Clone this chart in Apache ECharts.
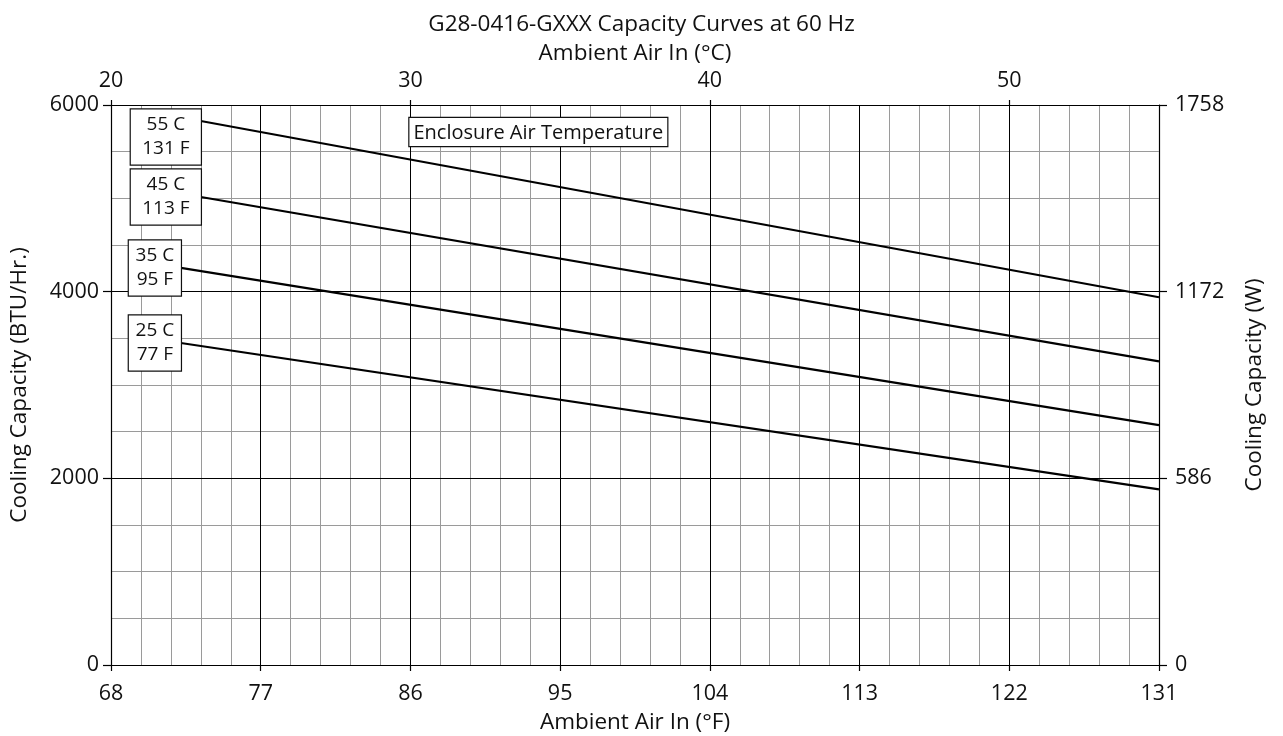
<!DOCTYPE html>
<html>
<head>
<meta charset="utf-8">
<title>G28-0416-GXXX Capacity Curves at 60 Hz</title>
<script src="https://cdn.jsdelivr.net/npm/echarts@6/dist/echarts.min.js"></script>
<style>
  html, body { margin: 0; padding: 0; background: #fff; }
  #chart { width: 1283px; height: 736px; }
</style>
</head>
<body>
<div id="chart"></div>
<script>
// Ambient air tick labels (°F, bottom) and capacity in watts (right)
const fahrenheitTicks = [68, 77, 86, 95, 104, 113, 122, 131];
const wattTicks = [0, 586, 1172, 1758];

// Enclosure air temperature curves: [ambient °F, capacity BTU/Hr]
const curve55C = [[73.4, 5829], [131, 3940]];
const curve45C = [[73.4, 5014], [131, 3254]];
const curve35C = [[72.2, 4254], [131, 2571]];
const curve25C = [[72.2, 3450], [131, 1882]];
const curveNames = ['55 C\n131 F', '45 C\n113 F', '35 C\n95 F', '25 C\n77 F'];

// anchor of the "Enclosure Air Temperature" caption
const captionAnchor = [[86, 6000]];

const FONT = 'Open Sans';
const INK = '#111';
const plain = v => String(v);
const chart = echarts.init(document.getElementById('chart'), null, { renderer: 'canvas' });

// each curve carries its name box, whose right edge sits at the curve's first point
function curveSeries(data, name, boxWidth, shiftY) {
  const outer = boxWidth + 12;
  return {
    type: 'line',
    xAxisIndex: 0,
    yAxisIndex: 0,
    data: data.map((d, i) => i === 0 ? {
      value: d,
      label: {
        show: true,
        formatter: name,
        position: 'inside',
        offset: [-outer / 2, shiftY],
        width: boxWidth,
        align: 'center',
        verticalAlign: 'middle',
        fontFamily: FONT,
        fontSize: 19,
        lineHeight: 24,
        color: INK,
        backgroundColor: '#fff',
        borderColor: INK,
        borderWidth: 1.2,
        padding: [4, 6, 3, 6]
      }
    } : d),
    symbol: 'circle',
    symbolSize: 0,
    showSymbol: true,
    itemStyle: { color: '#000', opacity: 1 },
    lineStyle: { color: '#000', width: 2.2 },
    silent: true,
    z: 5
  };
}

const option = {
  animation: false,
  backgroundColor: '#fff',
  textStyle: { fontFamily: FONT },
  title: {
    text: 'G28-0416-GXXX Capacity Curves at 60 Hz',
    left: 'center',
    top: 8,
    textStyle: { fontFamily: FONT, fontSize: 22.5, fontWeight: 'normal', color: INK }
  },
  grid: { left: 111, right: 124, top: 105, bottom: 71, containLabel: false, outerBoundsMode: 'none' },
  xAxis: [
    {
      type: 'value',
      position: 'bottom',
      min: 68,
      max: 131,
      z: 2,
      name: 'Ambient Air In (°F)',
      nameLocation: 'middle',
      nameGap: 46,
      nameTextStyle: { fontFamily: FONT, fontSize: 22.5, color: INK },
      axisLine: { show: true, onZero: false, lineStyle: { color: '#000', width: 1.2 } },
      axisTick: { show: true, inside: false, length: 6, customValues: fahrenheitTicks, lineStyle: { color: '#000', width: 1.2 } },
      axisLabel: { show: true, customValues: fahrenheitTicks, margin: 18, formatter: plain, fontFamily: FONT, fontSize: 21.5, color: INK },
      splitLine: { show: true, lineStyle: { color: '#000', width: 1 } }
    },
    {
      type: 'value',
      position: 'top',
      min: 20,
      max: 55,
      interval: 10,
      z: 1,
      name: 'Ambient Air In (°C)',
      nameLocation: 'middle',
      nameGap: 40,
      nameTextStyle: { fontFamily: FONT, fontSize: 22.5, color: INK },
      axisLine: { show: true, onZero: false, lineStyle: { color: '#000', width: 1.2 } },
      axisTick: { show: true, inside: false, length: 5, lineStyle: { color: '#000', width: 1.2 } },
      axisLabel: { show: true, showMaxLabel: false, margin: 13, formatter: plain, fontFamily: FONT, fontSize: 21.5, color: INK },
      splitLine: { show: false },
      minorTick: { show: false, splitNumber: 10 },
      minorSplitLine: { show: true, lineStyle: { color: '#9a9a9a', width: 1 } }
    }
  ],
  yAxis: [
    {
      type: 'value',
      position: 'left',
      min: 0,
      max: 6000,
      interval: 2000,
      z: 2,
      name: 'Cooling Capacity (BTU/Hr.)',
      nameLocation: 'middle',
      nameGap: 80,
      nameTextStyle: { fontFamily: FONT, fontSize: 22.5, color: INK },
      axisLine: { show: true, onZero: false, lineStyle: { color: '#000', width: 1.2 } },
      axisTick: { show: true, inside: false, length: 8, lineStyle: { color: '#000', width: 1.2 } },
      axisLabel: { show: true, margin: 12, formatter: plain, fontFamily: FONT, fontSize: 21.5, color: INK },
      splitLine: { show: true, lineStyle: { color: '#000', width: 1 } },
      minorTick: { show: false, splitNumber: 4 },
      minorSplitLine: { show: true, lineStyle: { color: '#9a9a9a', width: 1 } }
    },
    {
      type: 'value',
      position: 'right',
      min: 0,
      max: 1758,
      interval: 586,
      name: 'Cooling Capacity (W)',
      nameLocation: 'middle',
      nameGap: 84,
      nameTextStyle: { fontFamily: FONT, fontSize: 22.5, color: INK },
      axisLine: { show: true, onZero: false, lineStyle: { color: '#000', width: 1.2 } },
      axisTick: { show: true, inside: false, length: 8, customValues: wattTicks, lineStyle: { color: '#000', width: 1.2 } },
      axisLabel: { show: true, customValues: wattTicks, margin: 16, formatter: plain, fontFamily: FONT, fontSize: 21.5, color: INK },
      splitLine: { show: false }
    }
  ],
  series: [
    curveSeries(curve55C, curveNames[0], 58, 16),
    curveSeries(curve45C, curveNames[1], 58, 0),
    curveSeries(curve35C, curveNames[2], 40, 0),
    curveSeries(curve25C, curveNames[3], 40, 0),
    {
      type: 'scatter',
      xAxisIndex: 0,
      yAxisIndex: 0,
      data: captionAnchor,
      symbolSize: 0,
      silent: true,
      z: 6,
      itemStyle: { opacity: 1 },
      label: {
        show: true,
        formatter: 'Enclosure Air Temperature',
        position: [-1, 13],
        align: 'left',
        verticalAlign: 'top',
        fontFamily: FONT,
        fontSize: 20,
        color: INK,
        backgroundColor: '#fff',
        borderColor: INK,
        borderWidth: 1.2,
        padding: [5, 4, 3, 4]
      }
    }
  ]
};

chart.setOption(option);
</script>
</body>
</html>
